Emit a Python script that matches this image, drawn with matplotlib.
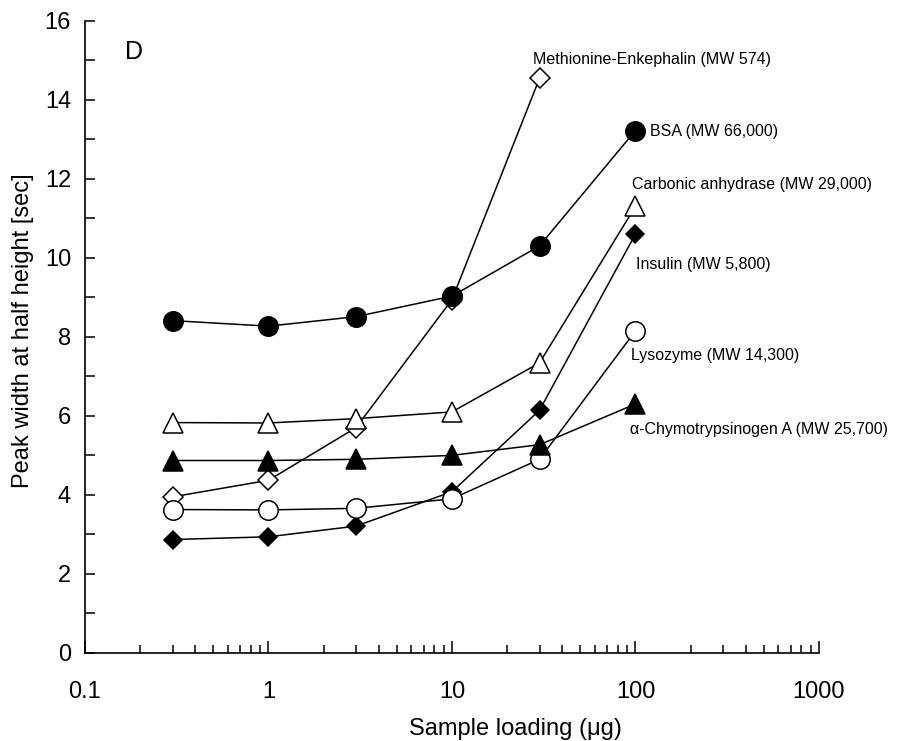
import matplotlib
matplotlib.use("Agg")
import matplotlib.pyplot as plt
from matplotlib.ticker import FixedLocator, LogLocator, NullFormatter

plt.rcParams['font.family'] = ['Liberation Sans', 'DejaVu Sans']

# sample loading (ug)
loading = [0.3, 1, 3, 10, 30, 100]

bsa = [8.41, 8.27, 8.51, 9.03, 10.3, 13.22]
met_enk = [3.95, 4.37, 5.7, 8.94, 14.54]
carbonic = [5.83, 5.82, 5.93, 6.1, 7.34, 11.3]
insulin = [2.87, 2.94, 3.21, 4.08, 6.14, 10.6]
lysozyme = [3.63, 3.62, 3.66, 3.9, 4.9, 8.15]
chymo = [4.87, 4.87, 4.9, 5.0, 5.27, 6.3]

labels = ["Methionine-Enkephalin (MW 574)", "BSA (MW 66,000)",
          "Carbonic anhydrase (MW 29,000)", "Insulin (MW 5,800)",
          "Lysozyme (MW 14,300)", "\u03b1-Chymotrypsinogen A (MW 25,700)"]

fig = plt.figure(figsize=(9.05, 7.41), dpi=100)
ax = fig.add_axes([0.0939, 0.1188, 0.811, 0.8533])

lk = dict(color='black', lw=1.1, markeredgecolor='black', markeredgewidth=1.1)
ax.plot(loading[:5], met_enk, '-D', markerfacecolor='white', ms=10, zorder=3, **lk)
ax.plot(loading, bsa, '-o', markerfacecolor='black', ms=14, zorder=3, **lk)
ax.plot(loading, carbonic, '-^', markerfacecolor='white', ms=14, zorder=3, **lk)
ax.plot(loading, insulin, '-D', markerfacecolor='black', ms=9.5, zorder=3, **lk)
ax.plot(loading, lysozyme, '-o', markerfacecolor='white', ms=14, zorder=3, **lk)
ax.plot(loading, chymo, '-^', markerfacecolor='black', ms=14, zorder=3, **lk)

ax.set_xscale('log')
ax.set_xlim(0.1, 1000)
ax.set_ylim(0, 16)

ax.spines['top'].set_visible(False)
ax.spines['right'].set_visible(False)
for s in ['left', 'bottom']:
    ax.spines[s].set_linewidth(1.2)

ax.set_yticks(range(0, 17, 2))
ax.yaxis.set_minor_locator(FixedLocator(range(1, 16, 2)))
ax.xaxis.set_major_locator(FixedLocator([0.1, 1, 10, 100, 1000]))
ax.xaxis.set_minor_locator(LogLocator(base=10, subs=range(2, 10)))
ax.xaxis.set_minor_formatter(NullFormatter())
ax.set_xticklabels(["0.1", "1", "10", "100", "1000"])

ax.tick_params(axis='both', which='both', direction='in', width=1.1, labelsize=17)
ax.tick_params(axis='y', which='both', length=7, pad=10)
ax.tick_params(axis='x', which='major', length=9, pad=20)
ax.tick_params(axis='x', which='minor', length=6)

ax.set_xlabel("Sample loading (\u03bcg)", fontsize=17)
ax.xaxis.set_label_coords(0.586, -0.103)
ax.set_ylabel("Peak width at half height [sec]", fontsize=17)
ax.yaxis.set_label_coords(-0.07, 0.51)

ax.text(0.166, 15.2, "D", fontsize=18, va='center', ha='left')

fs = 11.5
ax.text(27.6, 15.03, labels[0], fontsize=fs, va='center', ha='left')
ax.text(120, 13.2, labels[1], fontsize=fs, va='center', ha='left')
ax.text(95.7, 11.85, labels[2], fontsize=fs, va='center', ha='left')
ax.text(100.7, 9.82, labels[3], fontsize=fs, va='center', ha='left')
ax.text(94, 7.52, labels[4], fontsize=fs, va='center', ha='left')
ax.text(93, 5.65, labels[5], fontsize=fs, va='center', ha='left')

fig.savefig("out.png", dpi=100)
